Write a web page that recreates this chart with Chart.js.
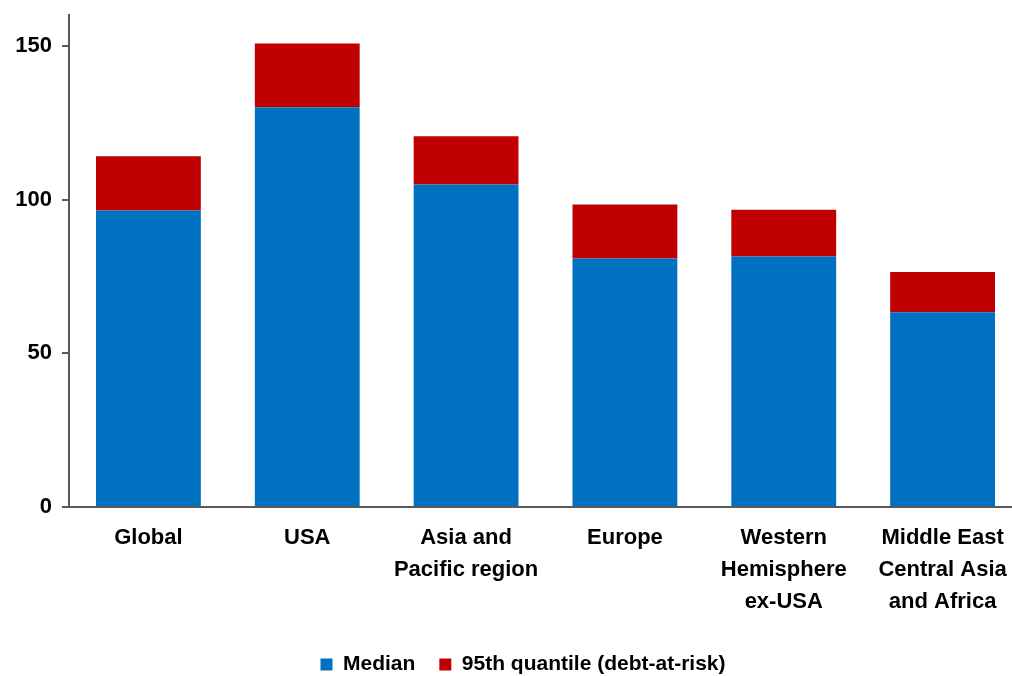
<!DOCTYPE html>
<html>
<head>
<meta charset="utf-8">
<script src="https://cdn.jsdelivr.net/npm/chart.js@4/dist/chart.umd.min.js"></script>
<style>
  html, body { margin: 0; padding: 0; background: #fff; overflow: hidden; }
  #caixa { width: 1024px; height: 676px; }
</style>
</head>
<body>
<div id="caixa"><canvas id="grafico" width="1024" height="676"></canvas></div>
<script>
const regioes = [
  'Global',
  'USA',
  ['Asia and', 'Pacific region'],
  'Europe',
  ['Western', 'Hemisphere', 'ex-USA'],
  ['Middle East', 'Central Asia', 'and Africa']
];

const mediana = [96.4, 130.0, 104.9, 80.8, 81.5, 63.3];
const quantil95 = [17.7, 20.7, 15.7, 17.6, 15.2, 13.1]; // parte acima da mediana

const ticksY = [0, 50, 100, 150];

const fonte = "'Liberation Sans', Arial, Helvetica, sans-serif";
const corEixo = '#595959';

// empurra a legenda um pouco para a direita, como no original
const deslocaLegenda = {
  id: 'deslocaLegenda',
  afterLayout(chart) {
    chart.legend.left += 12;
    chart.legend.right += 12;
  }
};

const ctx = document.getElementById('grafico').getContext('2d');
const grafico = new Chart(ctx, {
  type: 'bar',
  data: {
    labels: regioes,
    datasets: [
      {
        label: 'Median',
        data: mediana,
        backgroundColor: '#0070C0',
        barPercentage: 0.66,
        categoryPercentage: 1
      },
      {
        label: '95th quantile (debt-at-risk)',
        data: quantil95,
        backgroundColor: '#C00000',
        barPercentage: 0.66,
        categoryPercentage: 1
      }
    ]
  },
  plugins: [deslocaLegenda],
  options: {
    responsive: false,
    animation: false,
    layout: {
      padding: { top: 15, left: 0, right: 2, bottom: -9 }
    },
    scales: {
      x: {
        stacked: true,
        grid: { display: false, drawTicks: false },
        border: { color: corEixo, width: 2 },
        ticks: {
          color: '#000',
          padding: 15,
          maxRotation: 0,
          autoSkip: false,
          font: { family: fonte, size: 22, weight: 'bold', lineHeight: 1.45 }
        },
        afterFit: function(scale) { scale.height = 123; }
      },
      y: {
        stacked: true,
        min: 0,
        max: 160,
        grid: {
          drawOnChartArea: false,
          drawTicks: true,
          tickLength: 7,
          color: corEixo,
          lineWidth: 2
        },
        border: { color: corEixo, width: 2 },
        afterBuildTicks: function(scale) {
          scale.ticks = ticksY.map(v => ({ value: v }));
        },
        ticks: {
          color: '#000',
          padding: 10,
          font: { family: fonte, size: 22, weight: 'bold' }
        },
        afterFit: function(scale) {
          scale.width = 69;
          scale.paddingTop = 0;
          scale.paddingBottom = 0;
        }
      }
    },
    plugins: {
      legend: {
        position: 'bottom',
        labels: {
          color: '#000',
          boxWidth: 12,
          boxHeight: 12,
          padding: 24,
          font: { family: fonte, size: 21, weight: 'bold' }
        }
      },
      tooltip: { enabled: false }
    }
  }
});
</script>
</body>
</html>
